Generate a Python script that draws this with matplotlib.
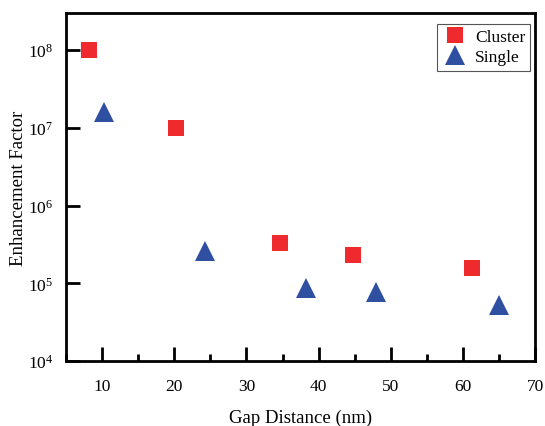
import matplotlib
matplotlib.use('Agg')
import matplotlib.pyplot as plt
from matplotlib.ticker import MultipleLocator, LogLocator, NullLocator

plt.rcParams['font.family'] = ['Liberation Serif', 'DejaVu Serif']
plt.rcParams['mathtext.fontset'] = 'custom'
plt.rcParams['mathtext.rm'] = 'Liberation Serif'
plt.rcParams['mathtext.it'] = 'Liberation Serif:italic'

# data
cluster_gap = [8.2, 20.3, 34.7, 44.7, 61.2]
cluster_ef = [1.0e8, 1.0e7, 3.3e5, 2.3e5, 1.6e5]
single_gap = [10.3, 24.2, 38.2, 48.0, 65.0]
single_ef = [1.6e7, 2.6e5, 8.8e4, 7.8e4, 5.3e4]

fig = plt.figure(figsize=(5.45, 4.27), dpi=100)
ax = fig.add_axes([0.121, 0.152, 0.861, 0.815])

ax.plot(cluster_gap, cluster_ef, 's', color='#ee2a2e', markersize=11.5,
        markeredgewidth=0, label='Cluster')
ax.plot(single_gap, single_ef, '^', color='#2f4fa0', markersize=14.5,
        markeredgewidth=0, label='Single')

ax.set_yscale('log')
ax.set_xlim(5, 70)
ax.set_ylim(1e4, 3e8)
ax.xaxis.set_major_locator(MultipleLocator(10))
ax.xaxis.set_minor_locator(MultipleLocator(5))
ax.yaxis.set_major_locator(LogLocator(base=10, numticks=10))
ax.yaxis.set_minor_locator(NullLocator())

ax.tick_params(axis='both', which='major', direction='in', length=10, width=2,
               labelsize=12.5)
ax.tick_params(axis='x', which='major', pad=12)
ax.tick_params(axis='y', which='major', pad=9)
ax.tick_params(axis='x', which='minor', direction='in', length=5, width=2)
for s in ax.spines.values():
    s.set_linewidth(2)

ax.set_xlabel('Gap Distance (nm)', fontsize=13.5, labelpad=11)
ax.set_ylabel('Enhancement Factor', fontsize=13.5, labelpad=1)

leg = ax.legend(loc='upper right', bbox_to_anchor=(0.99, 0.97),
                fontsize=12.5, fancybox=False, framealpha=1,
                edgecolor='#555555', handletextpad=0.4, borderpad=0.3,
                labelspacing=0.25, handlelength=1.5, borderaxespad=0)
leg.get_frame().set_linewidth(0.8)

plt.savefig('out.png', dpi=100)
plt.close()
